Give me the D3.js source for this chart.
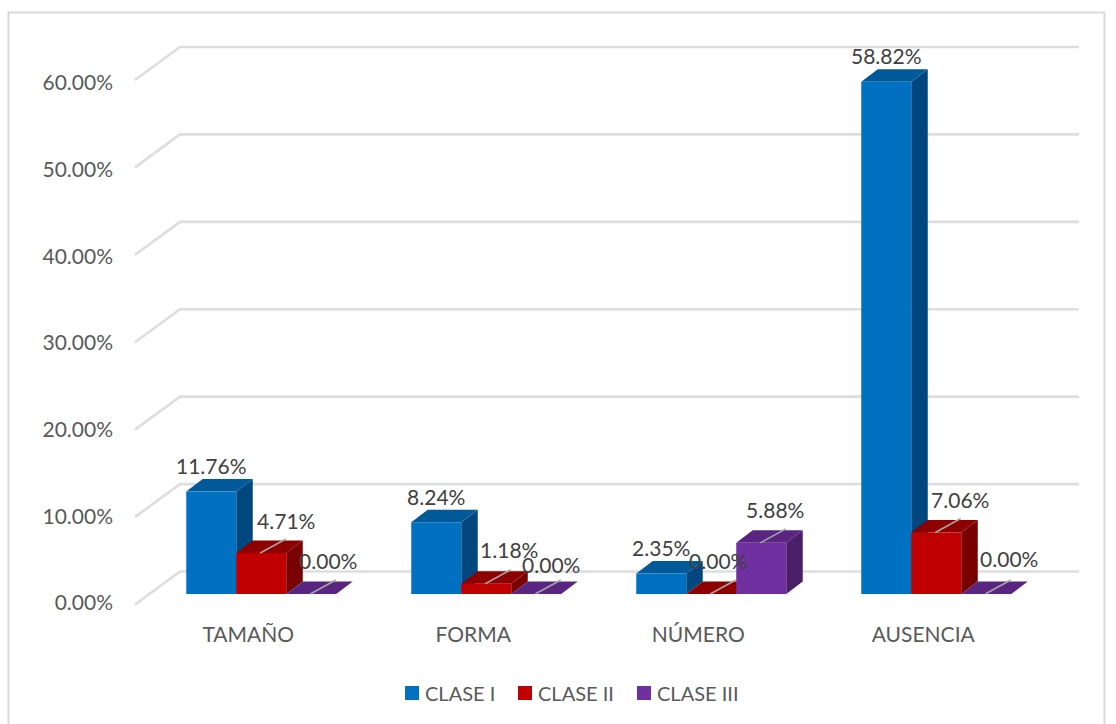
<!DOCTYPE html>
<html><head><meta charset="utf-8">
<script src="https://cdn.jsdelivr.net/npm/d3@7"></script>
<style>html,body{margin:0;background:#fff}svg{display:block}text{font-family:Lato,sans-serif}</style>
</head><body><div id="c"></div>
<script>
const categories = ["TAMAÑO","FORMA","NÚMERO","AUSENCIA"];
const seriesNames = ["CLASE I","CLASE II","CLASE III"];
const claseI = [11.76,8.24,2.35,58.82];
const claseII = [4.71,1.18,0,7.06];
const claseIII = [0,0,5.88,0];
const tickValues = [0,10,20,30,40,50,60];
// manual label displacement (px) from the default centred position, per series / category
const labelShiftX = [[0,0,0,0],[25,23,7,24],[17,15,14,23]];
const labelShiftY = [[0,0,0,0],[-6,-8,-7,-7],[-7,-3,-7,-9]];

const W=1116,H=724;
const svg=d3.select("#c").append("svg").attr("width",W).attr("height",H);
svg.append("rect").attr("x",8.5).attr("y",12.5).attr("width",1096).attr("height",730).attr("fill","#fff").attr("stroke","#d9d9d9").attr("stroke-width",2);

const series=[claseI,claseII,claseIII];
const faces=[["#0070C0","#005A9A","#00477F"],["#C00000","#8E0000","#780000"],["#7030A0","#592580","#4A2069"]];
const depthX=16.5,depthY=-12.5;
const x0=d3.scaleBand().domain(categories).range([148.75,1048.75]);
const x1=d3.scaleBand().domain(d3.range(3)).range([37.5,187.5]);
const yBar=d3.scaleLinear().domain([0,60]).range([594,71.5]);
const yGrid=d3.scaleLinear().domain([0,60]).range([571.5,47]);
const yTick=d3.scaleLinear().domain([0,60]).range([602.5,82.5]);

// grid
const grid=svg.append("g").attr("fill","none").attr("stroke","#dedede").attr("stroke-width",2.6);
tickValues.forEach(v=>{
  const y=yGrid(v);
  grid.append("path").attr("d",d3.line()([[135,y+33],[180,y],[1079,y]]));
});
// y axis labels
const ax=svg.append("g").attr("transform","translate(113,0)").call(d3.axisLeft(yTick).tickValues(tickValues).tickSize(0).tickPadding(0).tickFormat(d=>d3.format(".2f")(d)+"%"));
ax.select(".domain").remove();
ax.selectAll("text").attr("fill","#595959").attr("font-size",21).attr("font-family","Lato").attr("dy","0.35em");

// bars
const bars=svg.append("g");
categories.forEach((c,ci)=>{
  series.forEach((s,si)=>{
    const v=s[ci],x=x0(c)+x1(si),w=x1.bandwidth(),yt=yBar(v),yb=yBar(0);
    const g=bars.append("g");
    const poly=p=>d3.line()(p)+"Z";
    g.append("path").attr("fill",faces[si][2]).attr("d",poly([[x+w,yt],[x+w+depthX,yt+depthY],[x+w+depthX,yb+depthY],[x+w,yb]]));
    g.append("path").attr("fill",faces[si][1]).attr("d",poly([[x,yt],[x+depthX,yt+depthY],[x+w+depthX,yt+depthY],[x+w,yt]]));
    if(v>0) g.append("rect").attr("x",x).attr("y",yt).attr("width",w).attr("height",yb-yt).attr("fill",faces[si][0]);
  });
});
// labels and leaders
const labels=svg.append("g");
categories.forEach((c,ci)=>{
  series.forEach((s,si)=>{
    const v=s[ci],x=x0(c)+x1(si),w=x1.bandwidth(),cx=x+w/2,yt=yBar(v);
    const sx=labelShiftX[si][ci],sy=labelShiftY[si][ci];
    if(si>0) labels.append("line").attr("x1",cx-1).attr("y1",yt).attr("x2",cx+depthX+8).attr("y2",yt+depthY-1.5).attr("stroke","#a6a6a6").attr("stroke-width",1.5);
    labels.append("text").attr("x",cx+sx).attr("y",yt-25+sy).attr("dy","0.35em").attr("text-anchor","middle")
      .attr("fill","#404040").attr("font-size",21).text(d3.format(".2f")(v)+"%");
  });
});
// category labels
svg.append("g").selectAll("text").data(categories).join("text")
  .attr("x",d=>x0(d)+x0.bandwidth()/2-13).attr("y",635).attr("dy","0.35em").attr("text-anchor","middle")
  .attr("fill","#595959").attr("font-size",21).text(d=>d);
// legend
const legX=[405,518,637];
const lg=svg.append("g").selectAll("g").data(seriesNames).join("g").attr("transform",(d,i)=>`translate(${legX[i]},686)`);
lg.append("rect").attr("width",14).attr("height",14).attr("fill",(d,i)=>faces[i][0]);
lg.append("text").attr("x",20).attr("y",7.5).attr("dy","0.35em").attr("fill","#595959").attr("font-size",20).text(d=>d);
</script></body></html>
